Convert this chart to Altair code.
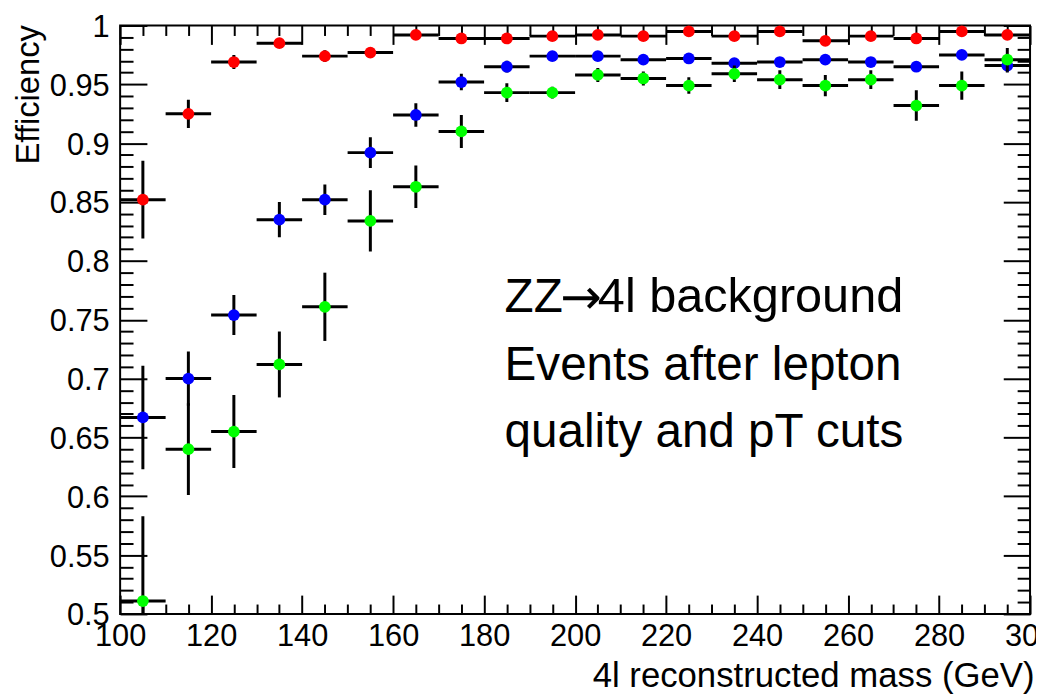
import altair as alt
import pandas as pd

# ---------------- data ----------------
bin_centers = [105, 115, 125, 135, 145, 155, 165, 175, 185, 195,
               205, 215, 225, 235, 245, 255, 265, 275, 285, 295]
bin_half_width = 5

series_colors = ["#ff0000", "#0000ff", "#00ff00"]

eff_red = [0.852, 0.925, 0.969, 0.985, 0.974, 0.977, 0.992, 0.989, 0.989, 0.991,
           0.992, 0.991, 0.995, 0.991, 0.995, 0.987, 0.991, 0.989, 0.995, 0.992]
err_red = [0.033, 0.012, 0.006, 0.004, 0.005, 0.004, 0.003, 0.003, 0.003, 0.003,
           0.003, 0.003, 0.003, 0.003, 0.003, 0.004, 0.003, 0.003, 0.002, 0.003]

eff_blue = [0.667, 0.700, 0.754, 0.835, 0.852, 0.892, 0.924, 0.952, 0.965, 0.974,
            0.974, 0.971, 0.972, 0.968, 0.969, 0.971, 0.969, 0.965, 0.975, 0.966]
err_blue = [0.044, 0.023, 0.017, 0.015, 0.013, 0.013, 0.010, 0.007, 0.005, 0.004,
            0.004, 0.004, 0.004, 0.004, 0.004, 0.004, 0.004, 0.004, 0.004, 0.006]

eff_green = [0.511, 0.640, 0.655, 0.712, 0.761, 0.834, 0.863, 0.910, 0.943, 0.943,
             0.958, 0.955, 0.949, 0.959, 0.954, 0.949, 0.954, 0.932, 0.949, 0.971]
err_green = [0.072, 0.039, 0.031, 0.028, 0.029, 0.026, 0.018, 0.014, 0.008, 0.005,
             0.006, 0.006, 0.007, 0.007, 0.008, 0.009, 0.008, 0.013, 0.012, 0.010]

x_major_ticks = [100, 120, 140, 160, 180, 200, 220, 240, 260, 280, 300]
x_minor_ticks = [v for v in range(105, 300, 5) if v % 20 != 0]
y_major_ticks = [0.5, 0.55, 0.6, 0.65, 0.7, 0.75, 0.8, 0.85, 0.9, 0.95, 1.0]
y_minor_ticks = [round(0.5 + 0.01 * i, 2) for i in range(1, 50) if i % 5 != 0]

x_title = "4l reconstructed mass (GeV)"
y_title = "Efficiency"
annotation_line1_parts = ["ZZ", "\u2192", "4l background"]
annotation_other_lines = ["Events after lepton", "quality and pT cuts"]
annotation_x = 184.5
annotation_y = 0.7563

# ---------------- chart ----------------
FONT = "Liberation Sans"
W, H = 917, 593
xs = alt.Scale(domain=[100, 300], nice=False, zero=False)
ys = alt.Scale(domain=[0.5, 1.0], nice=False, zero=False)


def make_df(eff, err):
    return pd.DataFrame({
        "m": bin_centers,
        "mlo": [c - bin_half_width for c in bin_centers],
        "mhi": [c + bin_half_width for c in bin_centers],
        "eff": eff,
        "elo": [e - d for e, d in zip(eff, err)],
        "ehi": [e + d for e, d in zip(eff, err)],
    })


layers = []
for color, eff, err in zip(series_colors,
                           [eff_red, eff_blue, eff_green],
                           [err_red, err_blue, err_green]):
    base = alt.Chart(make_df(eff, err))
    hbar = base.mark_rule(color="black", strokeWidth=3, clip=True).encode(
        x=alt.X("mlo:Q", scale=xs, axis=None), x2="mhi:Q",
        y=alt.Y("eff:Q", scale=ys, axis=None))
    vbar = base.mark_rule(color="black", strokeWidth=3, clip=True).encode(
        x=alt.X("m:Q", scale=xs, axis=None),
        y=alt.Y("elo:Q", scale=ys, axis=None), y2="ehi:Q")
    pts = base.mark_circle(color=color, size=140, opacity=1).encode(
        x=alt.X("m:Q", scale=xs, axis=None),
        y=alt.Y("eff:Q", scale=ys, axis=None))
    layers += [hbar, vbar, pts]

axis_df = make_df(eff_red, err_red)


def axis_layer(xaxis, yaxis):
    return alt.Chart(axis_df).mark_point(opacity=0).encode(
        x=alt.X("m:Q", scale=xs, axis=xaxis),
        y=alt.Y("eff:Q", scale=ys, axis=yaxis))


def tick_axis(orient, values, size):
    return alt.Axis(orient=orient, values=values, labels=False, domain=False,
                    grid=False, ticks=True, tickSize=size, tickWidth=2,
                    tickColor="black", offset=-size, title="")


label_x_axis = alt.Axis(
    orient="bottom", values=x_major_ticks, format="d", ticks=False, domain=False,
    grid=False, labelFont=FONT, labelFontSize=31, labelColor="black",
    labelPadding=8, labelFlush=False, labelOverlap=False, labelBound=False,
    title=x_title, titleFont=FONT, titleFontSize=35, titleFontWeight="normal",
    titleColor="black", titleAlign="right", titleAnchor="end",
    titleX=921, titleY=73, titleBaseline="alphabetic")

label_y_axis = alt.Axis(
    orient="left", values=y_major_ticks, format=".2~f", ticks=False, domain=False,
    grid=False, labelFont=FONT, labelFontSize=31, labelColor="black",
    labelPadding=11, labelOffset=2, labelOverlap=False, labelBound=False,
    labelFlush=False,
    title=y_title, titleFont=FONT, titleFontSize=33, titleFontWeight="normal",
    titleColor="black", titleAngle=270, titleAlign="right", titleAnchor="end",
    titleX=-82, titleY=-1, titleBaseline="alphabetic")

axis_layers = [
    axis_layer(label_x_axis, label_y_axis),
    axis_layer(tick_axis("bottom", x_major_ticks, 19), tick_axis("left", y_major_ticks, 27)),
    axis_layer(tick_axis("bottom", x_minor_ticks, 10), tick_axis("left", y_minor_ticks, 13)),
    axis_layer(tick_axis("top", x_major_ticks, 19), tick_axis("right", y_major_ticks, 27)),
    axis_layer(tick_axis("top", x_minor_ticks, 10), tick_axis("right", y_minor_ticks, 13)),
]

annot_df = pd.DataFrame({"m": [annotation_x], "eff": [annotation_y]})
annot_base = alt.Chart(annot_df).encode(
    x=alt.X("m:Q", scale=xs, axis=None), y=alt.Y("eff:Q", scale=ys, axis=None))

annot_zz = annot_base.mark_text(
    text=annotation_line1_parts[0], align="left", baseline="alphabetic",
    font=FONT, fontSize=48, color="black")
annot_arrow = annot_base.mark_text(
    text=annotation_line1_parts[1], align="center", baseline="alphabetic",
    font="DejaVu Sans", fontSize=50, color="black", dx=77, dy=2)
annot_rest1 = annot_base.mark_text(
    text=annotation_line1_parts[2], align="left", baseline="alphabetic",
    font=FONT, fontSize=49, color="black", dx=94)
annot_lines = annot_base.mark_text(
    text=annotation_other_lines, align="left", baseline="alphabetic",
    font=FONT, fontSize=48, lineHeight=68, color="black", dy=68)

chart = alt.layer(*axis_layers, *layers,
                  annot_zz, annot_arrow, annot_rest1, annot_lines).resolve_axis(
    x="independent", y="independent"
).properties(
    width=W, height=H,
    autosize=alt.AutoSizeParams(type="none"),
    padding={"left": 113, "top": 15, "right": 6, "bottom": 79},
    background="white",
).configure_view(stroke="black", strokeWidth=2)

chart.save("out.html", embed_options={"renderer": "svg", "actions": False})
